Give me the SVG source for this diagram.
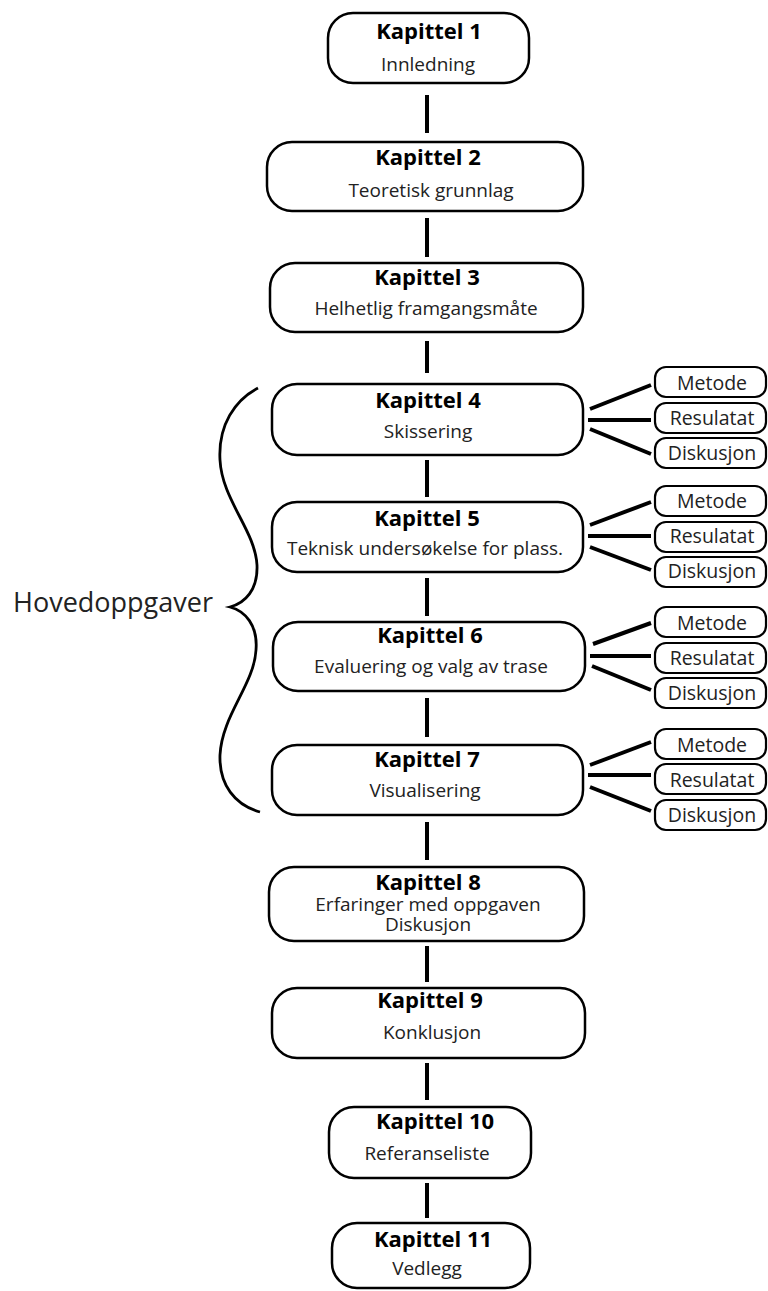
<svg xmlns="http://www.w3.org/2000/svg" width="768" height="1291" viewBox="0 0 768 1291">
<style>
.box{fill:#fff;stroke:#000;stroke-width:2.5}
.sbox{fill:#fff;stroke:#000;stroke-width:2.2}
.t{font-family:"Open Sans","Noto Sans",sans-serif;font-weight:bold;font-size:22px;fill:#000;text-anchor:middle}
.s{font-family:"Open Sans","Noto Sans",sans-serif;font-size:19px;fill:#222;text-anchor:middle}
.s8{font-family:"Open Sans","Noto Sans",sans-serif;font-size:19px;fill:#222;text-anchor:middle}
.ss{font-family:"Open Sans","Noto Sans",sans-serif;font-size:19.5px;fill:#222;text-anchor:middle}
.c{stroke:#000;stroke-width:4;fill:none}
.b{stroke:#000;stroke-width:2.8;fill:none}
</style>
<rect width="768" height="1291" fill="#fff"/>
<g id="connectors">
<line class="c" x1="427" y1="95" x2="427" y2="133"/>
<line class="c" x1="427" y1="218" x2="427" y2="257"/>
<line class="c" x1="427" y1="341" x2="427" y2="373"/>
<line class="c" x1="427" y1="460" x2="427" y2="497"/>
<line class="c" x1="427" y1="578" x2="427" y2="616"/>
<line class="c" x1="427" y1="698" x2="427" y2="737"/>
<line class="c" x1="427" y1="822" x2="427" y2="860"/>
<line class="c" x1="427" y1="946" x2="427" y2="982"/>
<line class="c" x1="427" y1="1063" x2="427" y2="1100"/>
<line class="c" x1="427" y1="1183" x2="427" y2="1218"/>
<line class="c" x1="590" y1="409" x2="651" y2="385"/>
<line class="c" x1="588" y1="420" x2="651" y2="420"/>
<line class="c" x1="590" y1="429" x2="651" y2="454"/>
<line class="c" x1="590" y1="525" x2="651" y2="502"/>
<line class="c" x1="588" y1="536" x2="651" y2="536"/>
<line class="c" x1="590" y1="547" x2="651" y2="570"/>
<line class="c" x1="593" y1="644" x2="651" y2="623"/>
<line class="c" x1="590" y1="656" x2="651" y2="656"/>
<line class="c" x1="592" y1="666" x2="651" y2="690"/>
<line class="c" x1="590" y1="765" x2="651" y2="742"/>
<line class="c" x1="588" y1="775" x2="651" y2="775"/>
<line class="c" x1="590" y1="787" x2="651" y2="811"/>
</g>
<g id="brace">
<path class="b" d="M258,388 C235,400 218,425 220,460 C222,500 255,530 257,565 C258,590 245,603 230,607 C245,611 258,625 256,650 C254,685 222,715 220,755 C219,785 235,805 260,812"/>
<text x="13" y="612" style="font-family:'Open Sans','Noto Sans',sans-serif;font-size:27px;fill:#222">Hovedoppgaver</text>
</g>
<g id="k1"><rect class="box" x="328" y="13" width="201" height="70" rx="25"/><text class="t" x="429" y="39">Kapittel 1</text><text class="s" x="428" y="71">Innledning</text></g>
<g id="k2"><rect class="box" x="267" y="142" width="316" height="69" rx="25"/><text class="t" x="428" y="165">Kapittel 2</text><text class="s" x="431" y="197">Teoretisk grunnlag</text></g>
<g id="k3"><rect class="box" x="270" y="263" width="313" height="69" rx="25"/><text class="t" x="427" y="285">Kapittel 3</text><text class="s" x="426" y="315">Helhetlig framgangsmåte</text></g>
<g id="k4"><rect class="box" x="272" y="384" width="311" height="71" rx="25"/><text class="t" x="428" y="408">Kapittel 4</text><text class="s" x="428" y="438">Skissering</text></g>
<g id="k5"><rect class="box" x="272" y="502" width="311" height="70" rx="25"/><text class="t" x="427" y="526">Kapittel 5</text><text class="s" x="425" y="555">Teknisk undersøkelse for plass.</text></g>
<g id="k6"><rect class="box" x="273" y="622" width="312" height="69" rx="25"/><text class="t" x="430" y="643">Kapittel 6</text><text class="s" x="431" y="673">Evaluering og valg av trase</text></g>
<g id="k7"><rect class="box" x="272" y="745" width="311" height="70" rx="25"/><text class="t" x="427" y="767">Kapittel 7</text><text class="s" x="425" y="797">Visualisering</text></g>
<g id="k8"><rect class="box" x="269" y="867" width="315" height="74" rx="25"/><text class="t" x="428" y="890">Kapittel 8</text><text class="s8" x="428" y="911">Erfaringer med oppgaven</text><text class="s8" x="428" y="931">Diskusjon</text></g>
<g id="k9"><rect class="box" x="272" y="988" width="313" height="70" rx="25"/><text class="t" x="430" y="1008">Kapittel 9</text><text class="s" x="432" y="1039">Konklusjon</text></g>
<g id="k10"><rect class="box" x="329" y="1107" width="202" height="71" rx="25"/><text class="t" x="435" y="1129">Kapittel 10</text><text class="s" x="427" y="1160">Referanseliste</text></g>
<g id="k11"><rect class="box" x="332" y="1223" width="198" height="65" rx="25"/><text class="t" x="433" y="1247">Kapittel 11</text><text class="s" x="427" y="1275">Vedlegg</text></g>
<g id="k4-metode"><rect class="sbox" x="655" y="367" width="111" height="30" rx="11"/><text class="ss" x="712" y="390">Metode</text></g>
<g id="k4-resultat"><rect class="sbox" x="655" y="403" width="111" height="30" rx="11"/><text class="ss" x="712" y="425">Resulatat</text></g>
<g id="k4-diskusjon"><rect class="sbox" x="655" y="438" width="111" height="30" rx="11"/><text class="ss" x="712" y="460">Diskusjon</text></g>
<g id="k5-metode"><rect class="sbox" x="655" y="486" width="111" height="30" rx="11"/><text class="ss" x="712" y="508">Metode</text></g>
<g id="k5-resultat"><rect class="sbox" x="655" y="522" width="111" height="30" rx="11"/><text class="ss" x="712" y="543">Resulatat</text></g>
<g id="k5-diskusjon"><rect class="sbox" x="655" y="557" width="111" height="30" rx="11"/><text class="ss" x="712" y="578">Diskusjon</text></g>
<g id="k6-metode"><rect class="sbox" x="655" y="607" width="111" height="30" rx="11"/><text class="ss" x="712" y="630">Metode</text></g>
<g id="k6-resultat"><rect class="sbox" x="655" y="643" width="111" height="30" rx="11"/><text class="ss" x="712" y="665">Resulatat</text></g>
<g id="k6-diskusjon"><rect class="sbox" x="655" y="678" width="111" height="30" rx="11"/><text class="ss" x="712" y="700">Diskusjon</text></g>
<g id="k7-metode"><rect class="sbox" x="655" y="729" width="111" height="30" rx="11"/><text class="ss" x="712" y="752">Metode</text></g>
<g id="k7-resultat"><rect class="sbox" x="655" y="764" width="111" height="30" rx="11"/><text class="ss" x="712" y="787">Resulatat</text></g>
<g id="k7-diskusjon"><rect class="sbox" x="655" y="800" width="111" height="30" rx="11"/><text class="ss" x="712" y="822">Diskusjon</text></g>
</svg>
